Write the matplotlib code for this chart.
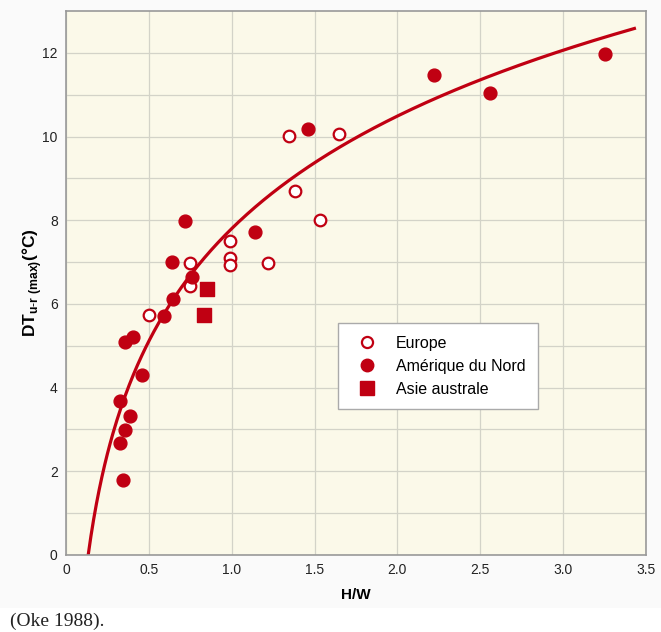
import numpy as np
import matplotlib.pyplot as plt
from matplotlib.lines import Line2D
from matplotlib.patches import Rectangle

plt.rcParams['font.family'] = ['Liberation Sans', 'DejaVu Sans']
plt.rcParams['mathtext.fontset'] = 'custom'
plt.rcParams['mathtext.rm'] = 'Liberation Sans'
plt.rcParams['mathtext.bf'] = 'Liberation Sans:bold'

# Europe (cercles vides)
europe_hw = [0.50, 0.75, 0.75, 0.99, 0.99, 0.99, 1.22, 1.345, 1.38, 1.53, 1.65]
europe_dt = [5.74, 6.42, 6.98, 7.50, 7.09, 6.93, 6.98, 10.02, 8.69, 8.01, 10.06]

# Amérique du Nord (cercles pleins)
amerique_hw = [0.345, 0.325, 0.355, 0.386, 0.325, 0.456, 0.355, 0.406, 0.592,
               0.646, 0.64, 0.759, 0.721, 1.14, 1.46, 2.22, 2.556, 3.253]
amerique_dt = [1.79, 2.67, 2.98, 3.33, 3.69, 4.29, 5.08, 5.20, 5.72,
               6.11, 7.00, 6.64, 7.97, 7.72, 10.19, 11.48, 11.05, 11.97]

# Asie australe (carrés)
asie_hw = [0.83, 0.851]
asie_dt = [5.73, 6.35]

# courbe d'ajustement DT = a + b ln(H/W)
fit_a = 7.80
fit_b = 3.88
fit_range = (0.134, 3.43)

red = '#c00012'

fig = plt.figure(figsize=(6.61, 6.32), dpi=100, facecolor='#fafafa')
fig.patches.append(Rectangle((0, 0), 1, 24 / 632, transform=fig.transFigure,
                             facecolor='white', edgecolor='none', zorder=0))
ax = fig.add_axes([66 / 661, 1 - 555 / 632, 580 / 661, 544 / 632])
ax.set_facecolor('#fbf9e9')

x_fit = np.linspace(fit_range[0], fit_range[1], 400)
ax.plot(x_fit, fit_a + fit_b * np.log(x_fit), color=red, lw=2.3, zorder=2)

ax.scatter(europe_hw, europe_dt, s=70, facecolor='white', edgecolor=red,
           linewidth=1.6, zorder=3)
ax.scatter(amerique_hw, amerique_dt, s=85, color=red, zorder=3)
ax.scatter(asie_hw, asie_dt, s=105, marker='s', color=red, zorder=3)

ax.set_xlim(0, 3.5)
ax.set_ylim(0, 13)
ax.set_xticks(np.arange(0, 3.51, 0.5))
ax.set_xticklabels(['0', '0.5', '1.0', '1.5', '2.0', '2.5', '3.0', '3.5'])
ax.set_yticks(np.arange(0, 13, 1))
ax.set_yticklabels([str(v) if v % 2 == 0 else '' for v in range(13)])
ax.grid(color='#d3d3c8', lw=0.9)
ax.set_axisbelow(True)
ax.tick_params(length=0, labelsize=10, pad=6, colors='#222222')
for sp in ax.spines.values():
    sp.set_color('#999999')
    sp.set_linewidth(1.2)

ax.set_xlabel('H/W', fontsize=11, fontweight='bold', labelpad=8)
ax.set_ylabel(r'DT$_{\mathbf{u\text{-}r\ (max)}}$(°C)', fontsize=12.5,
              fontweight='bold')
ax.yaxis.set_label_coords(-0.038, 0.5)

handles = [
    Line2D([], [], ls='', marker='o', ms=8, mfc='white', mec=red, mew=1.6),
    Line2D([], [], ls='', marker='o', ms=9, color=red),
    Line2D([], [], ls='', marker='s', ms=10, color=red),
]
leg = ax.legend(handles, ['Europe', 'Amérique du Nord', 'Asie australe'],
                loc='lower left', bbox_to_anchor=(0.456, 0.253), fontsize=11.5,
                fancybox=False, framealpha=1, edgecolor='#aaaaaa',
                handletextpad=0.8, borderpad=0.8, labelspacing=0.5)
leg.get_frame().set_linewidth(1.0)

fig.text(10 / 661, 1 - 621 / 632, '(Oke 1988).', family='Liberation Serif',
         fontsize=14, color='#222222', va='center')

fig.savefig('out.png', dpi=100, facecolor=fig.get_facecolor())
